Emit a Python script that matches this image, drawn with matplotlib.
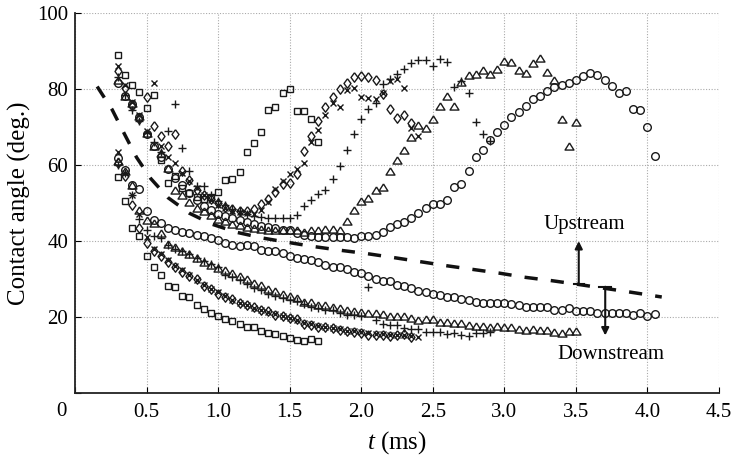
import numpy as np
import matplotlib.pyplot as plt

plt.rcParams['font.family'] = ['Liberation Serif', 'DejaVu Serif']
plt.rcParams['mathtext.fontset'] = 'custom'
plt.rcParams['mathtext.rm'] = 'Liberation Serif'
plt.rcParams['mathtext.it'] = 'Liberation Serif:italic'

# ## Data (t in ms, contact angle in deg.)
# squares
t_sq = [0.30, 0.35, 0.40, 0.45, 0.50, 0.55, 0.60, 0.65, 0.70, 0.75, 0.80, 0.85, 0.90, 0.95,
        1.00, 1.05, 1.10, 1.15, 1.20, 1.25, 1.30, 1.35, 1.40, 1.45, 1.50, 1.55, 1.60, 1.65, 1.70]
up_sq = [88.9, 83.5, 80.9, 79.1, 75.0, 78.5, 61.2, 55.3, 57.0, 54.0, 52.5, 51.5, 51.0, 51.5,
         52.8, 56.1, 56.3, 58.1, 63.3, 65.8, 68.7, 74.4, 75.3, 78.8, 80.0, 74.1, 74.3, 72.2, 66.1]
dn_sq = [56.7, 50.4, 43.4, 41.4, 36.0, 33.3, 31.1, 28.2, 27.8, 25.6, 25.3, 23.2, 22.1, 21.2,
         20.3, 19.6, 18.9, 18.2, 17.5, 17.3, 16.4, 15.9, 15.5, 15.1, 14.5, 14.0, 13.8, 14.2, 13.8]

# diamonds
t_di = [0.30, 0.35, 0.40, 0.45, 0.50, 0.55, 0.60, 0.65, 0.70, 0.75, 0.80, 0.85, 0.90, 0.95,
        1.00, 1.05, 1.10, 1.15, 1.20, 1.25, 1.30, 1.35, 1.40, 1.45, 1.50, 1.55, 1.60, 1.65,
        1.70, 1.75, 1.80, 1.85, 1.90, 1.95, 2.00, 2.05, 2.10, 2.15, 2.20, 2.25, 2.30, 2.35]
up_di = [84.6, 80.3, 75.5, 72.0, 77.9, 70.3, 67.7, 64.9, 68.0, 58.3, 56.1, 53.5, 52.0, 51.0,
         50.0, 49.0, 48.3, 47.8, 47.8, 48.5, 49.8, 51.1, 53.0, 55.0, 55.3, 57.5, 63.6, 67.6,
         71.5, 75.2, 77.9, 80.0, 81.6, 83.0, 83.3, 83.2, 82.4, 78.6, 74.6, 72.4, 73.0, 70.9]
dn_di = [60.5, 57.0, 49.6, 43.4, 39.5, 37.3, 36.0, 34.6, 33.3, 32.0, 30.9, 30.0, 28.1, 27.4,
         26.2, 25.3, 24.7, 23.7, 23.2, 22.8, 21.9, 21.5, 20.6, 20.3, 19.7, 19.5, 18.2, 18.0,
         17.5, 17.5, 17.1, 16.7, 16.5, 16.0, 15.8, 15.4, 15.4, 15.3, 15.0, 15.3, 15.6, 14.9]

# crosses
t_cr = [0.30, 0.35, 0.40, 0.45, 0.50, 0.55, 0.60, 0.65, 0.70, 0.75, 0.80, 0.85, 0.90, 0.95,
        1.00, 1.05, 1.10, 1.15, 1.20, 1.25, 1.30, 1.35, 1.40, 1.45, 1.50, 1.55, 1.60, 1.65,
        1.70, 1.75, 1.80, 1.85, 1.90, 1.95, 2.00, 2.05, 2.10, 2.15, 2.20, 2.25, 2.30, 2.35, 2.40]
up_cr = [86.0, 81.0, 76.5, 73.0, 69.0, 81.4, 65.0, 62.0, 60.5, 58.0, 55.8, 54.0, 52.2, 50.8,
         49.6, 48.6, 48.0, 47.6, 47.4, 47.2, 48.2, 50.2, 53.7, 55.7, 57.5, 59.0, 60.5, 66.0,
         69.3, 73.0, 76.3, 75.3, 79.6, 80.3, 77.9, 77.6, 77.2, 79.0, 82.0, 82.6, 80.3, 69.7, 67.5]
dn_cr = [63.3, 58.0, 52.2, 47.0, 41.0, 38.0, 36.5, 35.0, 33.5, 32.3, 31.0, 29.8, 28.5, 27.5,
         26.5, 25.5, 24.5, 23.8, 23.2, 22.5, 22.0, 21.4, 20.8, 20.3, 19.8, 19.3, 18.6, 18.2,
         17.7, 17.4, 17.2, 16.9, 16.5, 16.3, 16.0, 15.8, 15.6, 15.5, 15.3, 15.2, 15.2, 15.1, 14.9]

# pluses
t_pl = [0.30, 0.35, 0.40, 0.45, 0.50, 0.55, 0.60, 0.65, 0.70, 0.75, 0.80, 0.85, 0.90, 0.95,
        1.00, 1.05, 1.10, 1.15, 1.20, 1.25, 1.30, 1.35, 1.40, 1.45, 1.50, 1.55, 1.60, 1.65,
        1.70, 1.75, 1.80, 1.85, 1.90, 1.95, 2.00, 2.05, 2.10, 2.15, 2.20, 2.25, 2.30, 2.35,
        2.40, 2.45, 2.50, 2.55, 2.60, 2.65, 2.70, 2.75, 2.80, 2.85, 2.90]
up_pl = [83.0, 78.5, 74.5, 71.5, 68.4, 66.0, 63.5, 68.8, 75.9, 64.5, 58.3, 54.4, 54.4, 52.0,
         50.5, 49.5, 48.5, 47.8, 47.0, 46.5, 46.2, 46.0, 46.0, 46.0, 46.0, 46.9, 49.3, 50.9,
         52.4, 53.3, 56.3, 59.6, 64.0, 68.1, 72.1, 74.6, 76.3, 81.3, 82.5, 83.8, 85.3, 86.8,
         87.5, 87.5, 86.0, 87.9, 87.0, 80.6, 82.0, 79.0, 71.2, 68.0, 66.3]
dn_pl = [60.0, 58.0, 52.0, 45.8, 43.0, 41.2, 40.8, 39.0, 38.0, 37.3, 36.5, 35.5, 34.8, 34.0,
         33.2, 31.1, 30.5, 29.8, 28.8, 27.6, 27.2, 26.1, 25.6, 25.0, 24.6, 24.2, 23.4, 22.8,
         22.3, 22.0, 22.0, 21.0, 20.6, 20.5, 20.2, 27.9, 19.2, 18.3, 18.0, 18.0, 17.1, 16.8,
         16.8, 16.2, 16.2, 16.0, 15.6, 15.8, 15.3, 15.1, 15.8, 15.8, 16.0]

# triangles
t_tr = [0.30, 0.35, 0.40, 0.45, 0.50, 0.55, 0.60, 0.65, 0.70, 0.75, 0.80, 0.85, 0.90, 0.95,
        1.00, 1.05, 1.10, 1.15, 1.20, 1.25, 1.30, 1.35, 1.40, 1.45, 1.50, 1.55, 1.60, 1.65,
        1.70, 1.75, 1.80, 1.85, 1.90, 1.95, 2.00, 2.05, 2.10, 2.15, 2.20, 2.25, 2.30, 2.35,
        2.40, 2.45, 2.50, 2.55, 2.60, 2.65, 2.70, 2.75, 2.80, 2.85, 2.90, 2.95, 3.00, 3.05,
        3.10, 3.15, 3.20, 3.25, 3.30, 3.35, 3.40, 3.45, 3.50]
up_tr = [82.4, 78.0, 76.3, 72.8, 68.4, 65.1, 63.2, 59.2, 53.5, 52.0, 50.2, 48.8, 47.8, 46.8,
         45.8, 45.2, 44.6, 44.2, 43.8, 43.5, 43.2, 43.0, 43.0, 42.8, 43.0, 43.0, 42.5, 42.8,
         42.8, 43.2, 43.2, 43.0, 45.2, 48.2, 50.6, 51.3, 53.3, 54.1, 58.5, 61.4, 63.8, 67.4,
         70.4, 69.7, 72.1, 75.6, 78.2, 75.4, 81.7, 83.5, 84.0, 84.9, 83.8, 85.1, 87.3, 87.1,
         85.0, 84.2, 86.7, 88.2, 84.4, 82.4, 72.1, 64.9, 71.4]
dn_tr = [61.0, 58.5, 54.8, 48.1, 45.6, 44.7, 42.0, 39.3, 38.4, 37.5, 36.6, 35.5, 34.6, 33.8,
         33.0, 32.4, 31.6, 30.9, 30.0, 29.1, 28.5, 27.4, 26.9, 26.1, 25.5, 25.0, 24.1, 24.0,
         23.1, 23.2, 22.6, 22.3, 21.9, 21.6, 21.3, 21.2, 21.0, 20.8, 20.4, 20.3, 20.2, 19.8,
         19.3, 19.6, 19.4, 18.8, 18.8, 18.6, 18.6, 18.0, 17.6, 17.8, 17.5, 17.7, 17.5, 17.4,
         16.8, 16.6, 16.8, 16.6, 16.7, 16.2, 15.9, 16.3, 16.4]

# circles
t_ci = [0.30, 0.35, 0.40, 0.45, 0.50, 0.55, 0.60, 0.65, 0.70, 0.75, 0.80, 0.85, 0.90, 0.95,
        1.00, 1.05, 1.10, 1.15, 1.20, 1.25, 1.30, 1.35, 1.40, 1.45, 1.50, 1.55, 1.60, 1.65,
        1.70, 1.75, 1.80, 1.85, 1.90, 1.95, 2.00, 2.05, 2.10, 2.15, 2.20, 2.25, 2.30, 2.35,
        2.40, 2.45, 2.50, 2.55, 2.60, 2.65, 2.70, 2.75, 2.80, 2.85, 2.90, 2.95, 3.00, 3.05,
        3.10, 3.15, 3.20, 3.25, 3.30, 3.35, 3.40, 3.45, 3.50, 3.55, 3.60, 3.65, 3.70, 3.75,
        3.80, 3.85, 3.90, 3.95, 4.00, 4.05]
up_ci = [81.6, 78.0, 76.0, 72.5, 68.0, 65.1, 62.0, 59.0, 56.5, 54.8, 52.5, 50.8, 49.3, 48.2,
         47.2, 46.6, 46.0, 45.5, 45.0, 44.5, 44.0, 43.6, 43.3, 43.0, 42.8, 42.2, 41.7, 41.2,
         41.0, 41.0, 41.0, 41.0, 41.0, 40.8, 41.2, 41.2, 41.7, 42.5, 43.7, 44.6, 45.0, 46.0,
         47.4, 48.8, 49.7, 49.8, 50.7, 54.2, 55.0, 58.5, 62.0, 63.8, 66.5, 68.6, 70.6, 72.6,
         74.0, 75.6, 77.2, 78.2, 79.3, 80.4, 81.1, 81.4, 82.4, 83.4, 84.2, 83.6, 82.3, 80.8,
         78.8, 79.4, 74.7, 74.4, 70.0, 62.3]
dn_ci = [61.8, 58.8, 54.8, 53.8, 48.0, 45.6, 44.7, 43.4, 43.0, 42.5, 42.1, 41.7, 41.2, 40.8,
         40.2, 39.6, 39.0, 38.6, 39.0, 38.6, 37.7, 37.3, 37.3, 36.8, 36.1, 35.6, 35.3, 34.9,
         34.4, 33.8, 33.3, 33.3, 32.6, 32.0, 31.7, 30.7, 30.1, 29.6, 29.4, 28.5, 28.1, 27.6,
         27.0, 26.7, 26.1, 25.9, 25.4, 25.3, 24.7, 24.4, 24.1, 23.8, 23.7, 23.7, 23.8, 23.4,
         23.1, 22.8, 22.8, 22.6, 22.6, 21.9, 21.9, 22.4, 21.7, 21.7, 21.5, 21.2, 21.2, 21.1,
         21.2, 21.2, 20.6, 21.1, 20.4, 20.8]

# dashed reference curve
t_ref = [0.155, 0.26, 0.35, 0.43, 0.53, 0.65, 0.80, 0.96, 1.13, 1.31, 1.48, 1.66, 1.85,
         2.04, 2.22, 2.41, 2.60, 2.77, 2.96, 3.14, 3.33, 3.50, 3.68, 3.86, 4.10]
a_ref = [80.6, 74.5, 67.8, 62.0, 56.4, 51.4, 47.3, 44.4, 42.3, 40.8, 39.7, 38.6, 37.6,
         36.7, 35.7, 34.6, 33.5, 32.6, 31.6, 30.5, 29.6, 28.7, 27.7, 26.7, 25.3]

# arrows: (t, from, to)
arrow_up = (3.52, 28.6, 40.0)
arrow_dn = (3.705, 28.0, 15.2)

xticks = [0, 0.5, 1.0, 1.5, 2.0, 2.5, 3.0, 3.5, 4.0, 4.5]
xticklabels = ['', '0.5', '1.0', '1.5', '2.0', '2.5', '3.0', '3.5', '4.0', '4.5']
yticks = [0, 20, 40, 60, 80, 100]
yticklabels = ['', '20', '40', '60', '80', '100']

# ## Plot
fig = plt.figure(figsize=(7.33, 4.55), dpi=100)
ax = fig.add_axes([0.1023, 0.1356, 0.8786, 0.8365])

diamond = [(0, 1), (0.74, 0), (0, -1), (-0.74, 0), (0, 1)]
triangle = [(0, 0.8), (1, -0.8), (-1, -0.8), (0, 0.8)]
ec = '#1a1a1a'
styles = [
    (t_sq, up_sq, dn_sq, 's', 5.0),
    (t_di, up_di, dn_di, diamond, 6.8),
    (t_cr, up_cr, dn_cr, 'x', 4.5),
    (t_pl, up_pl, dn_pl, '+', 5.7),
    (t_tr, up_tr, dn_tr, triangle, 6.4),
    (t_ci, up_ci, dn_ci, 'o', 5.5),
]
for t, up, dn, mk, ms in styles:
    for a in (up, dn):
        ax.plot(t, a, ls='none', marker=mk, ms=ms, mfc='none', mec=ec, mew=1.0, zorder=3)

ax.plot(t_ref, a_ref, color='#111111', lw=2.5, ls=(0, (3.8, 3.8)), zorder=4)

# arrows
x, y0, y1 = arrow_up
ax.annotate('', xy=(x, y1), xytext=(x, y0),
            arrowprops=dict(arrowstyle='-|>', lw=1.5, color='#111111', mutation_scale=11,
                            shrinkA=0, shrinkB=0), zorder=5)
ax.plot([x - 0.035, x + 0.035], [y0, y0], color='#111111', lw=1.5, zorder=5)
x, y0, y1 = arrow_dn
ax.annotate('', xy=(x, y1), xytext=(x, y0),
            arrowprops=dict(arrowstyle='-|>', lw=1.5, color='#111111', mutation_scale=11,
                            shrinkA=0, shrinkB=0), zorder=5)
ax.plot([x - 0.04, x + 0.04], [y0, y0], color='#111111', lw=1.5, zorder=5)

ax.text(3.555, 44.3, 'Upstream', fontsize=15, ha='center', va='center')
ax.text(3.745, 10.3, 'Downstream', fontsize=15, ha='center', va='center')

ax.set_xlim(0, 4.5)
ax.set_ylim(0, 100)
ax.set_xticks(xticks)
ax.set_xticklabels(xticklabels)
ax.set_yticks(yticks)
ax.set_yticklabels(yticklabels)
ax.tick_params(direction='in', length=4, width=0.8, labelsize=15, top=False, right=False)
ax.tick_params(axis='x', pad=7)
ax.tick_params(axis='y', pad=5)
ax.annotate('0', xy=(0, 0), xytext=(-9.5, -13), textcoords='offset points',
            fontsize=15, ha='center', va='center')

ax.grid(True, linestyle=(0, (1, 1.5)), color='#aaaaaa', lw=0.8)
ax.set_axisbelow(True)
for s in ['top', 'right']:
    ax.spines[s].set_visible(False)
for s in ['left', 'bottom']:
    ax.spines[s].set_linewidth(1.3)
    ax.spines[s].set_color('#222222')

ax.set_xlabel('$t$ (ms)', fontsize=18, labelpad=5)
ax.set_ylabel('Contact angle (deg.)', fontsize=18, labelpad=4)

plt.savefig('out.png', dpi=100)
